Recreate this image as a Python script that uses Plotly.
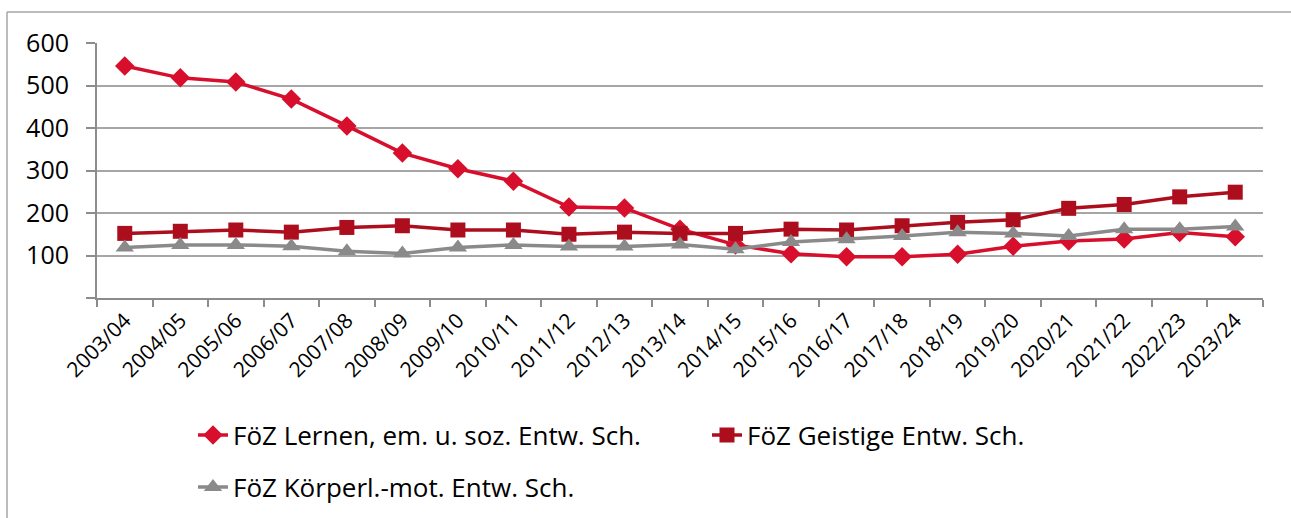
import plotly.graph_objects as go

categories = ["2003/04", "2004/05", "2005/06", "2006/07", "2007/08", "2008/09", "2009/10",
              "2010/11", "2011/12", "2012/13", "2013/14", "2014/15", "2015/16", "2016/17",
              "2017/18", "2018/19", "2019/20", "2020/21", "2021/22", "2022/23", "2023/24"]

lernen = [546, 518, 508, 468, 405, 341, 304, 275, 214, 212, 162, 125, 104, 97, 97, 103,
          122, 134, 139, 154, 144]
geistige = [152, 157, 160, 155, 166, 170, 160, 160, 150, 155, 152, 152, 162, 160, 170, 178,
            184, 211, 220, 238, 249]
koerperl = [119, 125, 125, 122, 110, 105, 119, 125, 121, 121, 126, 115, 132, 138, 146, 155,
            152, 146, 162, 162, 168]

names = ["FöZ Lernen, em. u. soz. Entw. Sch.", "FöZ Geistige Entw. Sch.",
         "FöZ Körperl.-mot. Entw. Sch."]

y_ticks = [0, 100, 200, 300, 400, 500, 600]
y_text = ["", "100", "200", "300", "400", "500", "600"]

RED = "#D70F2C"
DARKRED = "#AC0E1E"
GRAY = "#8A8A8A"
FONT = "Open Sans"

fig = go.Figure()
fig.add_trace(go.Scatter(x=categories, y=lernen, name=names[0], mode="lines+markers",
                         line=dict(color=RED, width=3.5),
                         marker=dict(symbol="diamond", size=15, color=RED), legend="legend"))
fig.add_trace(go.Scatter(x=categories, y=geistige, name=names[1], mode="lines+markers",
                         line=dict(color=DARKRED, width=3.5),
                         marker=dict(symbol="square", size=15, color=DARKRED), legend="legend"))
fig.add_trace(go.Scatter(x=categories, y=koerperl, name=names[2], mode="lines+markers",
                         line=dict(color=GRAY, width=3.5),
                         marker=dict(symbol="triangle-up", size=16, color=GRAY), legend="legend2"))

W, H = 1291, 518
L, R, T, B = 97, 1263, 43, 298


def px_x(p):
    return (p - L) / (R - L)


def px_y(p):
    return (B - p) / (B - T)


fig.update_layout(
    width=W, height=H,
    margin=dict(l=L, r=W - R, t=T, b=H - B, autoexpand=False),
    paper_bgcolor="white", plot_bgcolor="white",
    font=dict(family=FONT, color="#000000"),
    legend=dict(orientation="h", x=px_x(193), y=px_y(435), xanchor="left", yanchor="middle",
                font=dict(size=26, family=FONT), bgcolor="rgba(0,0,0,0)",
                entrywidth=469, entrywidthmode="pixels"),
    legend2=dict(orientation="h", x=px_x(193), y=px_y(487), xanchor="left", yanchor="middle",
                 font=dict(size=26, family=FONT), bgcolor="rgba(0,0,0,0)"),
    shapes=[
        dict(type="line", xref="paper", yref="paper", x0=px_x(7), x1=px_x(1295),
             y0=px_y(12), y1=px_y(12), line=dict(color="#A6A6A6", width=1.5)),
        dict(type="line", xref="paper", yref="paper", x0=px_x(7), x1=px_x(7),
             y0=px_y(12), y1=px_y(522), line=dict(color="#A6A6A6", width=1.5)),
    ],
)

fig.update_xaxes(type="category", showgrid=False, showline=True, linecolor="#8C8C8C",
                 linewidth=2, ticks="outside", tickson="boundaries", ticklen=7,
                 tickcolor="#8C8C8C", tickwidth=1.5, tickangle=-45,
                 tickfont=dict(size=21, family=FONT, color="#000000"), range=[-0.5, 20.5])
fig.update_yaxes(range=[0, 600], tickvals=y_ticks, ticktext=y_text, showgrid=True,
                 gridcolor="#A6A6A6", gridwidth=1.5, showline=True, linecolor="#8C8C8C",
                 linewidth=2, ticks="outside", ticklen=9, tickcolor="#8C8C8C", tickwidth=1.5,
                 ticklabelstandoff=12,
                 tickfont=dict(size=25, family=FONT, color="#000000"), zeroline=False)

fig.write_html("out.html", config={"displayModeBar": False},
               post_script="document.body.style.margin='0';")
